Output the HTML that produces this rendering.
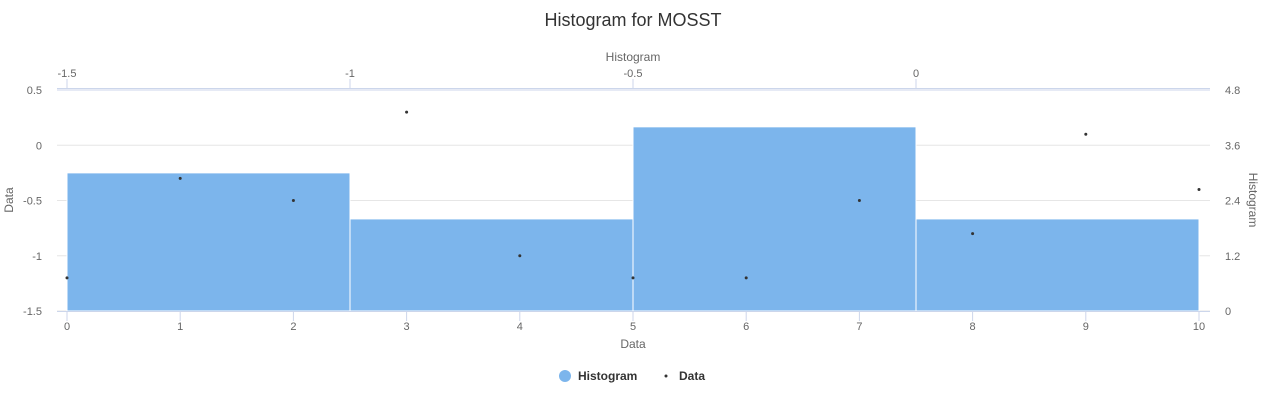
<!DOCTYPE html>
<html><head><meta charset="utf-8"><style>
body{margin:0;background:#fff;font-family:"Liberation Sans",sans-serif}
svg text{font-family:"Liberation Sans",sans-serif}
</style></head><body>
<svg id="chart" width="1270" height="400" xmlns="http://www.w3.org/2000/svg">
<text x="633" y="26" text-anchor="middle" font-size="18" fill="#333">Histogram for MOSST</text>
<g id="grid"></g><g id="bars"></g><g id="points"></g><g id="axes"></g>
<g>
<g><circle cx="565" cy="376" r="6" fill="#7cb5ec"/><text x="578" y="380" font-size="12" font-weight="bold" fill="#333">Histogram</text></g>
<g><circle cx="666" cy="376" r="1.5" fill="#333"/><text x="679" y="380" font-size="12" font-weight="bold" fill="#333">Data</text></g>
</g>
</svg>
<script>
const dataX=[0,1,2,3,4,5,6,7,8,9,10];
const dataY=[-1.2,-0.3,-0.5,0.3,-1,-1.2,-1.2,-0.5,-0.8,0.1,-0.4];
const binStarts=[-1.5,-1,-0.5,0];
const binEnds=[-1,-0.5,0,0.5];
const binCounts=[3,2,4,2];
const leftTicks=[-1.5,-1,-0.5,0,0.5];
const rightTicks=[0,1.2,2.4,3.6,4.8];
const bottomTicks=[0,1,2,3,4,5,6,7,8,9,10];
const topTicks=[-1.5,-1,-0.5,0];
const NS="http://www.w3.org/2000/svg";
const X0=67,X1=1199,Y0=311,Y1=90;
const xb=v=>X0+(v-0)/10*(X1-X0);
const xt=v=>X0+(v+1.5)/2*(X1-X0);
const yl=v=>Y0-(v+1.5)/2*(Y0-Y1);
const yr=v=>Y0-v/4.8*(Y0-Y1);
function mk(tag,attrs,parent,txt){const e=document.createElementNS(NS,tag);for(const k in attrs)e.setAttribute(k,attrs[k]);if(txt!==undefined)e.textContent=txt;document.getElementById(parent).appendChild(e);return e;}
leftTicks.forEach(t=>{const y=yl(t);
 const g=mk('line',{x1:57,x2:1210,y1:y,y2:y,stroke:t===0.5?'#ccd6eb':'#e6e6e6'},'grid');
 
 
 const l=mk('text',{x:42,y:y+4,'text-anchor':'end','font-size':11,fill:'#666'},'axes',String(t));
 
 });
rightTicks.forEach(t=>{const l=mk('text',{x:1225,y:yr(t)+4,'font-size':11,fill:'#666'},'axes',String(t));
 
 });
binCounts.forEach((c,i)=>{const x=xt(binStarts[i]),w=xt(binEnds[i])-x;const r=mk('rect',{x:x,y:yr(c),width:w,height:Y0-yr(c),fill:'#7cb5ec',stroke:'#fff','stroke-width':1},'bars');
 
 });
dataX.forEach((v,i)=>{const c=mk('circle',{cx:xb(v),cy:yl(dataY[i]),r:1.5,fill:'#333'},'points');
 
 });
mk('line',{x1:57,x2:1210,y1:311.5,y2:311.5,stroke:'#ccd6eb'},'axes');
bottomTicks.forEach(t=>{const x=xb(t);mk('line',{x1:x,x2:x,y1:311,y2:321,stroke:'#ccd6eb'},'axes');
 const l=mk('text',{x:x,y:330,'text-anchor':'middle','font-size':11,fill:'#666'},'axes',String(t));
 
 });
mk('line',{x1:57,x2:1210,y1:88.5,y2:88.5,stroke:'#ccd6eb'},'axes');
topTicks.forEach(t=>{const x=xt(t);mk('line',{x1:x,x2:x,y1:79,y2:89,stroke:'#ccd6eb'},'axes');
 const l=mk('text',{x:x,y:77,'text-anchor':'middle','font-size':11,fill:'#666'},'axes',String(t));
 
 });
let a=mk('text',{x:633,y:348,'text-anchor':'middle','font-size':12,fill:'#666'},'axes','Data');


a=mk('text',{x:633,y:61,'text-anchor':'middle','font-size':12,fill:'#666'},'axes','Histogram');


a=mk('text',{x:13,y:200,'text-anchor':'middle','font-size':12,fill:'#666',transform:'rotate(-90 13 200)'},'axes','Data');


a=mk('text',{x:1249,y:200,'text-anchor':'middle','font-size':12,fill:'#666',transform:'rotate(90 1249 200)'},'axes','Histogram');


</script>
</body></html>
